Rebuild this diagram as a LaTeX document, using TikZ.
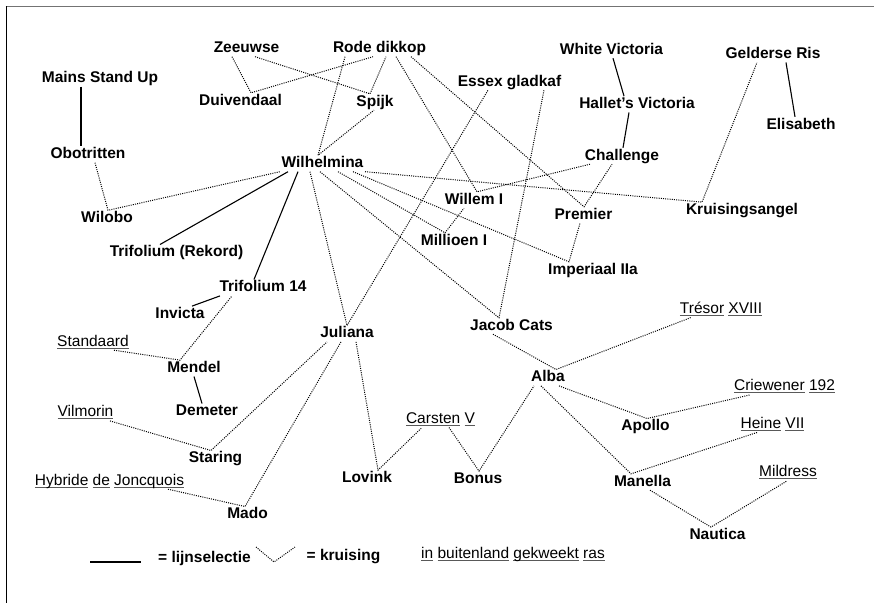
\documentclass[tikz,border=0pt]{standalone}
\usepackage{fontspec}
\setmainfont{Liberation Sans}
\usepackage{tikz}
\newcommand{\ulwoord}[1]{\setbox0\hbox{#1}\rlap{\color{black!65}\rule[-2.4pt]{\wd0}{0.9pt}}\box0\relax}

\begin{document}
\begin{tikzpicture}[x=1pt,y=-1pt,
  every node/.style={inner sep=1pt,text height=11pt,text depth=3pt,anchor=base,font=\fontsize{15.5}{18}\selectfont},
  ras/.style={font=\bfseries\fontsize{15.5}{18}\selectfont},
  lijn/.style={line width=1.1pt},
  kruis/.style={line width=1pt,dash pattern=on 1pt off 1.2pt}]
\useasboundingbox (0,0) rectangle (874,603);
\draw[black!55,line width=1.5pt] (5.5,6.5) -- (874,6.5);
\draw[line width=1.2pt] (6.5,6) -- (6.5,603);

\node[ras] (mains) at (100,82.5) {Mains Stand Up};
\node[ras] (obotritten) at (88,158.5) {Obotritten};
\node[ras] (wilobo) at (107,222.5) {Wilobo};
\node[ras] (trifoliumrekord) at (176.5,256.7) {Trifolium (Rekord)};
\node[ras] (trifolium14) at (263,291.7) {Trifolium 14};
\node[ras] (invicta) at (180,318.3) {Invicta};
\node (standaard) at (93,346) {\ulwoord{Standaard}};
\node[ras] (mendel) at (194,372.3) {Mendel};
\node[ras] (demeter) at (207,415.7) {Demeter};
\node (vilmorin) at (85.5,416.7) {\ulwoord{Vilmorin}};
\node[ras] (staring) at (215.5,462.7) {Staring};
\node (hybride) at (109.5,485) {\ulwoord{Hybride} \ulwoord{de} \ulwoord{Joncquois}};
\node[ras] (mado) at (247.5,518.7) {Mado};
\node[ras] (zeeuwse) at (246.5,52.5) {Zeeuwse};
\node[ras] (rodedikkop) at (379.5,52.5) {Rode dikkop};
\node[ras] (duivendaal) at (240.5,105) {Duivendaal};
\node[ras] (spijk) at (375,106) {Spijk};
\node[ras] (wilhelmina) at (322.5,167.5) {Wilhelmina};
\node[ras] (essex) at (509.5,86) {Essex gladkaf};
\node[ras] (whitevictoria) at (611.5,54) {White Victoria};
\node[ras] (hallet) at (637,108.3) {Hallet's Victoria};
\node[ras] (gelderse) at (773,58.3) {Gelderse Ris};
\node[ras] (elisabeth) at (801,129) {Elisabeth};
\node[ras] (challenge) at (622,160) {Challenge};
\node[ras] (willem) at (474,204) {Willem I};
\node[ras] (premier) at (583.5,219) {Premier};
\node[ras] (kruisingsangel) at (742,214.3) {Kruisingsangel};
\node[ras] (millioen) at (454,245) {Millioen I};
\node[ras] (imperiaal) at (593,274) {Imperiaal IIa};
\node[ras] (jacobcats) at (511.5,330) {Jacob Cats};
\node[ras] (juliana) at (347,337.7) {Juliana};
\node (tresor) at (721,313.3) {\ulwoord{Trésor} \ulwoord{XVIII}};
\node[ras] (alba) at (548,381.7) {Alba};
\node (criewener) at (784.5,390.7) {\ulwoord{Criewener} \ulwoord{192}};
\node[ras] (apollo) at (645.5,430.7) {Apollo};
\node (heine) at (772.5,428.3) {\ulwoord{Heine} \ulwoord{VII}};
\node (carsten) at (440.5,423.3) {\ulwoord{Carsten} \ulwoord{V}};
\node[ras] (lovink) at (367,482.3) {Lovink};
\node[ras] (bonus) at (478,483.3) {Bonus};
\node[ras] (manella) at (642.5,486) {Manella};
\node (mildress) at (788,476.7) {\ulwoord{Mildress}};
\node[ras] (nautica) at (717.5,539.3) {Nautica};

\foreach \a/\sa/\b/\sb in {mains/-19/obotritten/-7, whitevictoria/1.5/hallet/-13,
  hallet/-8/challenge/1, gelderse/13/elisabeth/-6, wilhelmina/-34.5/trifoliumrekord/-16.5,
  wilhelmina/-24.5/trifolium14/-9, trifolium14/-43/invicta/12, mendel/0/demeter/-5}{
\draw[lijn] ([xshift=\sa]\a.south) -- ([xshift=\sb]\b.north);}

\foreach \a/\sa/\k/\sk/\b/\sb in {zeeuwse/-14.5/duivendaal/10.5/rodedikkop/-6.5,
  zeeuwse/8.5/spijk/-5/rodedikkop/6.5, rodedikkop/-34.5/wilhelmina/-4.5/spijk/-1,
  obotritten/7/wilobo/1/wilhelmina/-42.5, rodedikkop/16.5/willem/3/challenge/-32,
  rodedikkop/31.5/premier/0.5/challenge/-10, wilhelmina/15.5/millioen/-9/willem/-10,
  wilhelmina/30.5/imperiaal/-24/premier/-3.5, wilhelmina/42.5/kruisingsangel/-40/gelderse/-16,
  wilhelmina/-12.5/juliana/0/essex/-21.5, wilhelmina/-2.5/jacobcats/-12.5/essex/34.5,
  jacobcats/-18.5/alba/8/tresor/-30, alba/11/apollo/1.5/criewener/-34.5,
  alba/-7/manella/-11.5/heine/-15.5, manella/7.5/nautica/-6.5/mildress/-1,
  carsten/8.5/bonus/1/alba/-14, juliana/9/lovink/11/carsten/-18.5,
  vilmorin/24.5/staring/-4.5/juliana/-20, hybride/58.5/mado/-2.5/juliana/-6,
  standaard/21/mendel/-14/trifolium14/-31}{
\draw[kruis] ([xshift=\sa]\a.south) -- ([xshift=\sk]\k.north) -- ([xshift=\sb]\b.south);}

\coordinate (lijn-a) at (90,562);
\coordinate (lijn-b) at (141,562);
\node[ras] (lijnselectie) at (204.5,562) {= lijnselectie};
\coordinate (kruis-a) at (256,547);
\coordinate (kruis-k) at (274,562);
\coordinate (kruis-b) at (295,547);
\node[ras] (kruising) at (343.5,560) {= kruising};
\node (buitenland) at (513,558.3) {\ulwoord{in} \ulwoord{buitenland} \ulwoord{gekweekt} \ulwoord{ras}};
\draw[lijn] (lijn-a) -- (lijn-b);
\draw[kruis] (kruis-a) -- (kruis-k) -- (kruis-b);

\end{tikzpicture}
\end{document}
